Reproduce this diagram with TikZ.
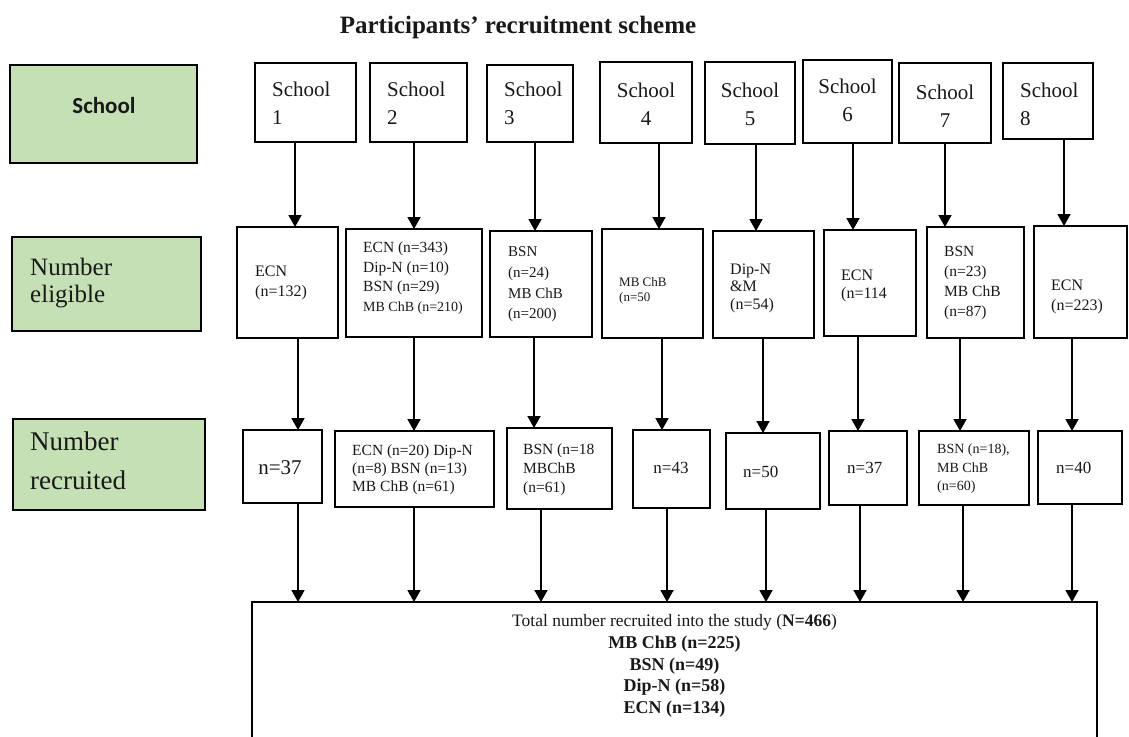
\documentclass[tikz,border=0pt]{standalone}
\usepackage{fontspec}
\setmainfont{Liberation Serif}
\newfontfamily\calib{Carlito}
\usetikzlibrary{arrows.meta}
\definecolor{lgreen}{RGB}{197,224,180}
\newcommand\fsz[2]{\fontsize{#1}{#2}\selectfont}
\newcommand\mybox[6][box]{\node[#1,minimum width={#5pt-#3pt},minimum height={#6pt-#4pt}] (#2) at ({(#3+#5)/2},{(#4+#6)/2}) {};}
\tikzset{
  box/.style={draw=black,line width=1.7pt,inner sep=0pt,outer sep=0pt,fill=white},
  gbox/.style={box,fill=lgreen},
  txt/.style={align=left,inner sep=0pt,text=black!90},
  ctxt/.style={align=center,inner sep=0pt,text=black!90},
  arr/.style={line width=1.8pt,-{Triangle[length=12pt,width=13pt]}},
}
\begin{document}
\begin{tikzpicture}[x=1pt,y=-1pt]
\useasboundingbox (0,0) rectangle (1129,736);
\fill[white] (0,0) rectangle (1129,736);
\clip (0,0) rectangle (1129,736);

% title
\node[ctxt,anchor=base,font=\fsz{25}{29}\bfseries] (title) at (518,33) {Participants’ recruitment scheme};

% left green labels
\mybox[gbox]{G1}{10}{65}{197}{163}
\mybox[gbox]{G2}{12}{237}{201}{331}
\mybox[gbox]{G3}{13}{419}{205}{510}
\node[ctxt,font=\calib\fsz{23}{27}\bfseries] (G1t) at (104,106) {School};
\node[txt,anchor=west,font=\fsz{25}{27}] (G2t) at (30,283) {Number\\eligible};
\node[txt,anchor=west,font=\fsz{27}{39}] (G3t) at (30,461) {Number\\recruited};

% school boxes
\mybox{S1}{255}{63}{356}{142}
\mybox{S2}{370}{63}{467}{142}
\mybox{S3}{487}{65}{573}{142}
\mybox{S4}{600}{62}{692}{143}
\mybox{S5}{705}{62}{795}{144}
\mybox{S6}{803}{60}{892}{143}
\mybox{S7}{899}{63}{991}{143}
\mybox{S8}{1003}{63}{1093}{139}
\tikzset{stxt/.style={txt,font=\fsz{21}{28}}}
\node[stxt,anchor=west] (S1t) at (272,103) {School\\1};
\node[stxt,anchor=west] (S2t) at (387,103) {School\\2};
\node[stxt,anchor=west] (S3t) at (504,103) {School\\3};
\node[stxt,align=center] (S4t) at (646,104) {School\\4};
\node[stxt,align=center] (S5t) at (750,104) {School\\5};
\node[stxt,align=center] (S6t) at (847.5,100) {School\\6};
\node[stxt,align=center] (S7t) at (945,106) {School\\7};
\node[stxt,anchor=west] (S8t) at (1020,104) {School\\8};

% eligible boxes
\mybox{E1}{237}{227}{338}{338}
\mybox{E2}{346}{229}{482}{337}
\mybox{E3}{490}{231}{592}{337}
\mybox{E4}{602}{229}{703}{338}
\mybox{E5}{713}{231}{814}{338}
\mybox{E6}{824}{230}{916}{336}
\mybox{E7}{927}{227}{1024}{338}
\mybox{E8}{1034}{226}{1127}{338}
\node[txt,anchor=west,font=\fsz{16}{20}] (E1t) at (255,283) {ECN\\(n=132)};
\node[txt,anchor=west,font=\fsz{15.5}{19.5}] (E2t) at (363,278) {ECN (n=343)\\Dip-N (n=10)\\BSN (n=29)\\{\fsz{14}{19.5}MB ChB (n=210)}};
\node[txt,anchor=west,font=\fsz{15}{20.7}] (E3t) at (508,284.5) {BSN\\(n=24)\\MB ChB\\(n=200)};
\node[txt,anchor=west,font=\fsz{13}{15}] (E4t) at (619,290.5) {MB ChB\\(n=50};
\node[txt,anchor=west,font=\fsz{16}{17.5}] (E5t) at (730,288) {Dip-N\\\&M\\(n=54)};
\node[txt,anchor=west,font=\fsz{16}{18.5}] (E6t) at (841,286) {ECN\\(n=114};
\node[txt,anchor=west,font=\fsz{15.5}{20.3}] (E7t) at (944,283) {BSN\\(n=23)\\MB ChB\\(n=87)};
\node[txt,anchor=west,font=\fsz{16}{20}] (E8t) at (1051,297) {ECN\\(n=223)};

% recruited boxes
\mybox{R1}{243}{430}{322}{503}
\mybox{R2}{335}{431}{494}{507}
\mybox{R3}{507}{428}{612}{509}
\mybox{R4}{633}{430}{710}{508}
\mybox{R5}{726}{433}{820}{509}
\mybox{R6}{829}{431}{907}{505}
\mybox{R7}{919}{431}{1029}{505}
\mybox{R8}{1038}{431}{1122}{504}
\node[ctxt,font=\fsz{21}{24}] (R1t) at (280,468) {n=37};
\node[txt,anchor=west,font=\fsz{15.5}{18}] (R2t) at (352,470) {ECN (n=20) Dip-N\\(n=8) BSN (n=13)\\MB ChB (n=61)};
\node[txt,anchor=west,font=\fsz{15.5}{19}] (R3t) at (523,469.5) {BSN (n=18\\MBChB\\(n=61)};
\node[ctxt,font=\fsz{17}{20}] (R4t) at (671,468) {n=43};
\node[txt,anchor=west,font=\fsz{17}{20}] (R5t) at (743,472) {n=50};
\node[txt,anchor=west,font=\fsz{17}{20}] (R6t) at (847,468) {n=37};
\node[txt,anchor=west,font=\fsz{14}{18.5}] (R7t) at (937,469) {BSN (n=18),\\MB ChB\\(n=60)};
\node[txt,anchor=west,font=\fsz{17}{20}] (R8t) at (1056,468) {n=40};

% total box
\mybox{T}{252}{602}{1097}{760}
\node[ctxt,font=\fsz{17.5}{21.7}] (Tt) at (674.5,666) {Total number recruited into the study (\textbf{N=466})\\{\fsz{18}{21.7}\bfseries MB ChB (n=225)}\\{\fsz{18}{21.7}\bfseries BSN (n=49)}\\{\fsz{18}{21.7}\bfseries Dip-N (n=58)}\\{\fsz{18}{21.7}\bfseries ECN (n=134)}};

% column coordinates
\foreach \i/\x in {1/295,2/414,3/535,4/659,5/756,6/853,7/945,8/1064} {\coordinate (a\i) at (\x,0);}
\foreach \i/\x in {1/298,2/414,3/534,4/662,5/763,6/858,7/960,8/1072} {\coordinate (b\i) at (\x,0);}
\foreach \i/\x in {1/298,2/414,3/541,4/667,5/766,6/860,7/963,8/1072} {\coordinate (c\i) at (\x,0);}

% arrows
\foreach \i in {1,...,8} {
  \draw[arr] (S\i.south -| a\i) -- (E\i.north -| a\i);
  \draw[arr] (E\i.south -| b\i) -- (R\i.north -| b\i);
  \draw[arr] (R\i.south -| c\i) -- (T.north -| c\i);
}
\end{tikzpicture}
\end{document}
